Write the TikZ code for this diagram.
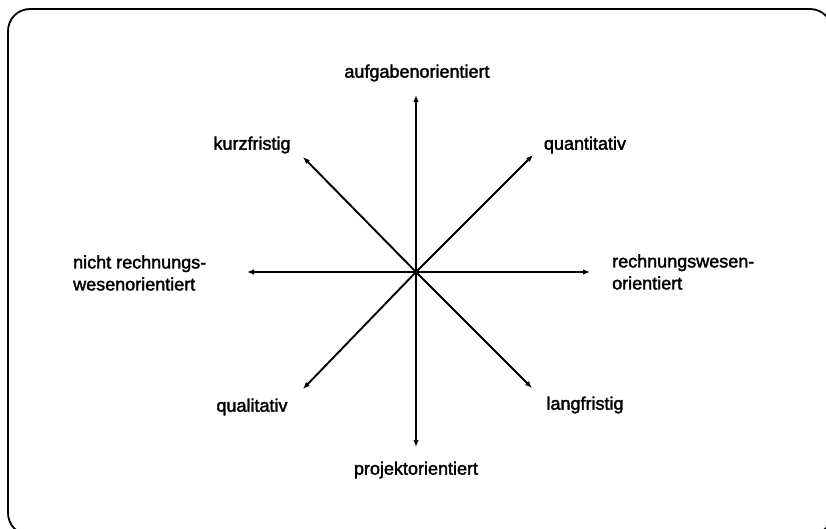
\documentclass[tikz,border=0pt]{standalone}
\usepackage{fontspec}
\setmainfont{Liberation Sans}
\newfontfamily\lblfont{Liberation Sans}[FakeBold=2]
\usetikzlibrary{arrows.meta}
\begin{document}
\begin{tikzpicture}[x=1pt,y=-1pt,
  lbl/.style={font=\lblfont\fontsize{18}{22}\selectfont, inner sep=0pt},
  axis/.style={line width=1.9pt, -{Latex[length=7pt,width=5.5pt]}},
  frame/.style={line width=1.8pt, rounded corners=22pt}]
\useasboundingbox (0,0) rectangle (826,529);
\draw[frame] (8,9) rectangle (832,535);
\coordinate (c) at (416,272);
\coordinate (tN) at (416,95);
\coordinate (tS) at (416,447);
\coordinate (tW) at (247,272);
\coordinate (tE) at (590,272);
\coordinate (tNW) at (303,157);
\coordinate (tNE) at (533,155);
\coordinate (tSW) at (303,389);
\coordinate (tSE) at (532,388);
\foreach \t in {tN,tS,tW,tE,tNW,tNE,tSW,tSE} \draw[axis] (c) -- (\t);
\node[lbl] (n) at (417,73) {aufgabenorientiert};
\node[lbl] (s) at (416,470) {projektorientiert};
\node[lbl] (nw) at (252,145) {kurzfristig};
\node[lbl] (ne) at (585,145) {quantitativ};
\node[lbl] (sw) at (252,407) {qualitativ};
\node[lbl] (se) at (585,405) {langfristig};
\node[lbl, anchor=west, align=left] (w) at (73,273) {nicht rechnungs-\\wesenorientiert};
\node[lbl, anchor=west, align=left] (e) at (612,272) {rechnungswesen-\\orientiert};
\end{tikzpicture}
\end{document}
